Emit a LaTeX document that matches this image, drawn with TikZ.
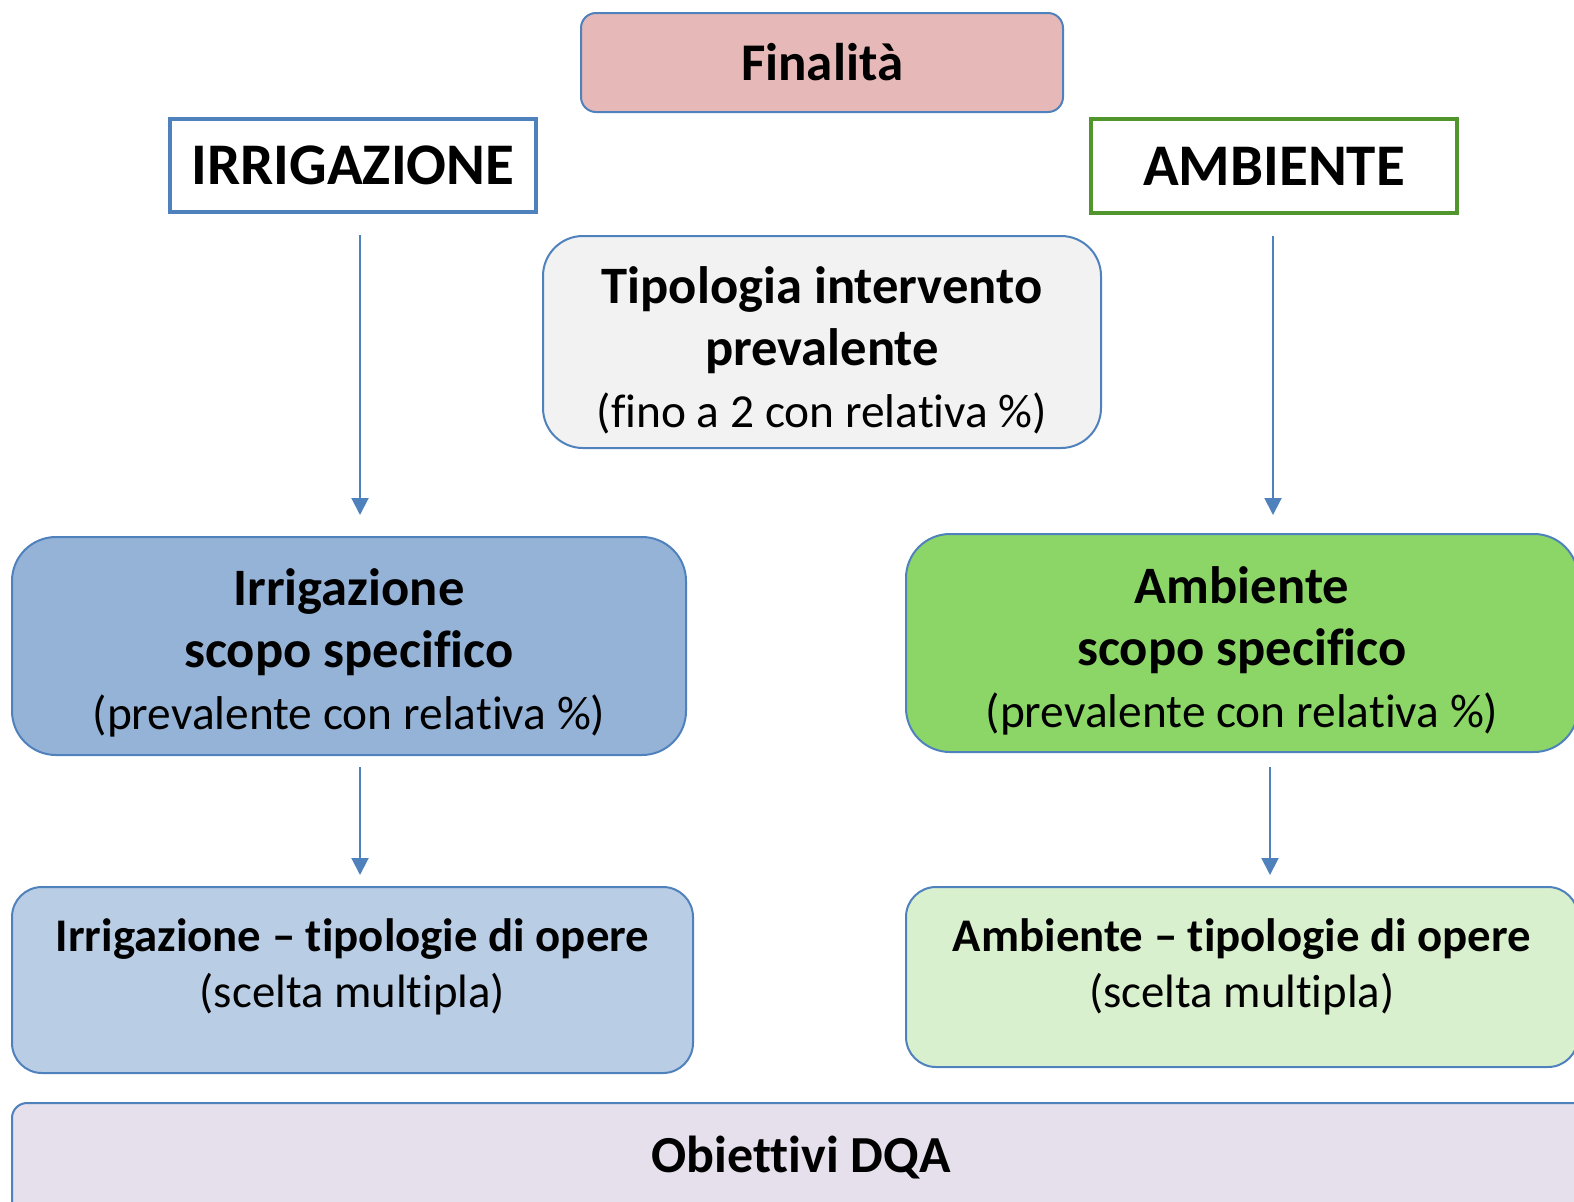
\documentclass[tikz,border=0pt]{standalone}
\usepackage{fontspec}
\setmainfont[Ligatures={TeX,NoCommon}]{Carlito}
\usepackage{xcolor}
\usetikzlibrary{arrows.meta}
\definecolor{edgeblue}{RGB}{79,129,189}
\definecolor{edgegreen}{RGB}{80,150,45}
\definecolor{finfill}{RGB}{230,184,183}
\definecolor{tipfill}{RGB}{242,242,242}
\definecolor{irrfill}{RGB}{149,179,215}
\definecolor{irrlight}{RGB}{185,205,229}
\definecolor{ambfill}{RGB}{140,214,103}
\definecolor{amblight}{RGB}{216,240,206}
\definecolor{dqafill}{RGB}{229,224,236}
\tikzset{
  rbox/.style={draw=edgeblue, line width=1pt, align=center, inner sep=0pt},
  bigbox/.style={rbox, font=\fontsize{26.3}{31}\selectfont},
  smallbox/.style={rbox, font=\fontsize{23.4}{28}\selectfont},
  sqbox/.style={draw, fill=white, line width=2.25pt, inner sep=0pt,
    font=\fontsize{29.5}{34}\selectfont\bfseries},
  arr/.style={-{Triangle[width=8.5pt,length=8.5pt]}, draw=edgeblue, line width=1pt}
}
\newcommand{\bigline}[1]{{\bfseries #1}}
\newcommand{\subline}[1]{{\fontsize{23.7}{31}\selectfont #1}}
\begin{document}
\begin{tikzpicture}[x=0.5pt,y=-0.5pt]
\useasboundingbox (0,0) rectangle (1574,1201);
\node[rbox, fill=finfill, rounded corners=7.5pt, minimum width=241pt, minimum height=49.5pt,
  font=\fontsize{26.5}{30}\selectfont\bfseries] (fin) at (822,62.5) {Finalità};
\node[sqbox, draw=edgeblue, minimum width=183pt, minimum height=46.5pt] (irr) at (353,165.5) {IRRIGAZIONE};
\node[sqbox, draw=edgegreen, minimum width=183pt, minimum height=47pt] (amb) at (1274,166) {AMBIENTE};
\node[bigbox, fill=tipfill, rounded corners=20pt, minimum width=279pt, minimum height=106pt,
  text height=92pt, text depth=7pt] (tip) at (822,342)
  {\bigline{Tipologia intervento}\\ \bigline{prevalente}\\ \subline{(fino a 2 con relativa \%)}};
\node[bigbox, fill=irrfill, rounded corners=22pt, minimum width=337pt, minimum height=109pt,
  text height=90pt, text depth=7pt] (irrscopo) at (349,646)
  {\bigline{Irrigazione}\\ \bigline{scopo specifico}\\ \subline{(prevalente con relativa \%)}};
\node[bigbox, fill=ambfill, rounded corners=22pt, minimum width=336pt, minimum height=109pt,
  text height=91pt, text depth=7pt] (ambscopo) at (1242,643)
  {\bigline{Ambiente}\\ \bigline{scopo specifico}\\ \subline{(prevalente con relativa \%)}};
\node[smallbox, fill=irrlight, rounded corners=15pt, minimum width=340.5pt, minimum height=93pt,
  text height=40pt, text depth=13pt] (irrtipo) at (352.5,980)
  {\textbf{Irrigazione – tipologie di opere}\\ (scelta multipla)};
\node[smallbox, fill=amblight, rounded corners=15pt, minimum width=336pt, minimum height=90pt,
  text height=42pt, text depth=12pt] (ambtipo) at (1242,977)
  {\textbf{Ambiente – tipologie di opere}\\ (scelta multipla)};
\node[rbox, fill=dqafill, rounded corners=7.5pt, minimum width=789pt, minimum height=58.5pt,
  text height=20pt, text depth=9pt, font=\fontsize{26}{30}\selectfont\bfseries] (dqa) at (801,1161.5) {Obiettivi DQA};
% frecce
\draw[arr, shorten <=10.4pt, shorten >=10.5pt] ([xshift=3.5pt]irr.south) -- ([xshift=3.5pt]irr.south |- irrscopo.north);
\draw[arr, shorten <=10.4pt, shorten >=9pt] ([xshift=-0.5pt]amb.south) -- ([xshift=-0.5pt]amb.south |- ambscopo.north);
\draw[arr, shorten <=5.5pt, shorten >=5.5pt] ([xshift=5.5pt]irrscopo.south) -- ([xshift=5.5pt]irrscopo.south |- irrtipo.north);
\draw[arr, shorten <=7pt, shorten >=5.5pt] ([xshift=14pt]ambscopo.south) -- ([xshift=14pt]ambscopo.south |- ambtipo.north);
\end{tikzpicture}
\end{document}
